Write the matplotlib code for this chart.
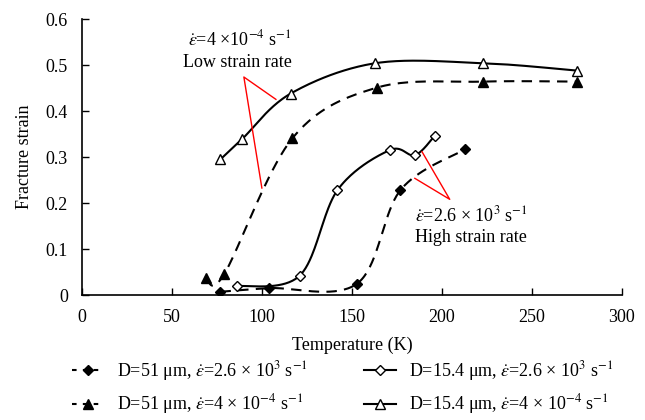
import numpy as np
import matplotlib
matplotlib.use('Agg')
import matplotlib.pyplot as plt

plt.rcParams['font.family'] = ['Liberation Serif', 'DejaVu Serif']
plt.rcParams['mathtext.fontset'] = 'stix'

# D=51 um, high strain rate (filled diamonds)
t_51_high = [77, 104, 153, 177, 213]
e_51_high = [0.007, 0.015, 0.025, 0.228, 0.317]

# D=15.4 um, high strain rate (open diamonds)
t_15_high = [86, 121, 142, 171, 185, 196]
e_15_high = [0.019, 0.042, 0.228, 0.315, 0.304, 0.346]

# D=51 um, low strain rate (filled triangles)
t_51_low = [69, 79, 117, 164, 223, 275]
e_51_low = [0.036, 0.045, 0.341, 0.451, 0.464, 0.464]

# D=15.4 um, low strain rate (open triangles)
t_15_low = [77, 89, 116, 163, 223, 275]
e_15_low = [0.295, 0.339, 0.438, 0.504, 0.504, 0.488]

labels = [r'D=51 μm, $\dot{\varepsilon}$=2.6 × 10$^{3}$ s$^{-1}$',
          r'D=51 μm, $\dot{\varepsilon}$=4 × 10$^{-4}$ s$^{-1}$',
          r'D=15.4 μm, $\dot{\varepsilon}$=2.6 × 10$^{3}$ s$^{-1}$',
          r'D=15.4 μm, $\dot{\varepsilon}$=4 × 10$^{-4}$ s$^{-1}$']


def smooth(x, y, n=40):
    # Excel-like smoothed line (Catmull-Rom bezier in screen-ish units)
    sx, sy = 540 / 300.0, 276 / 0.6
    p = np.column_stack([np.asarray(x, float) * sx, np.asarray(y, float) * sy])
    out = []
    for i in range(len(p) - 1):
        p0 = p[i - 1] if i > 0 else p[i]
        p1, p2 = p[i], p[i + 1]
        p3 = p[i + 2] if i + 2 < len(p) else p[i + 1]
        c1 = p1 + (p2 - p0) / 6
        c2 = p2 - (p3 - p1) / 6
        s = np.linspace(0, 1, n)[:, None]
        seg = (1 - s) ** 3 * p1 + 3 * (1 - s) ** 2 * s * c1 + 3 * (1 - s) * s ** 2 * c2 + s ** 3 * p2
        out.append(seg)
    out = np.vstack(out)
    return out[:, 0] / sx, out[:, 1] / sy


fig = plt.figure(figsize=(6.45, 4.2), dpi=100)
ax = fig.add_axes([0.127, 0.2976, 0.837, 0.657])

series = [
    (t_51_high, e_51_high, 'D', 'black', '--'),
    (t_51_low, e_51_low, '^', 'black', '--'),
    (t_15_high, e_15_high, 'D', 'white', '-'),
    (t_15_low, e_15_low, '^', 'white', '-'),
]
handles = []
for (t, e, m, fc, ls), lab in zip(series, labels):
    xs, ys = smooth(t, e)
    ax.plot(xs, ys, color='black', lw=1.5, ls=ls, dashes=(5, 3.5) if ls == '--' else (None, None))
    ms = 5.5 if m == 'D' else 7
    ax.plot(t, e, ls='none', marker=m, ms=ms, mfc=fc, mec='black', mew=1)
    h, = ax.plot([], [], color='black', lw=1.5, ls=ls, marker=m, ms=ms, mfc=fc, mec='black', mew=1,
                 label=lab)
    if ls == '--':
        h.set_dashes((2.2, 3))
    handles.append(h)

# callout lines
ax.plot([107.8, 90, 100], [0.4254, 0.474, 0.2326], color='red', lw=1)
ax.plot([189, 204.4, 185], [0.3115, 0.208, 0.2537], color='red', lw=1)

ax.text(87.8, 0.5565, r'$\dot{\varepsilon}$=4 ×10$^{-4}$ s$^{-1}$', ha='center', va='center', fontsize=13)
ax.text(86.7, 0.5065, 'Low strain rate', ha='center', va='center', fontsize=13)
ax.text(185, 0.174, r'$\dot{\varepsilon}$=2.6 × 10$^{3}$ s$^{-1}$', ha='left', va='center', fontsize=13)
ax.text(185, 0.126, 'High strain rate', ha='left', va='center', fontsize=13)

ax.set_xlim(0, 300)
ax.set_ylim(0, 0.6)
ax.set_xticks(np.arange(0, 301, 50))
ax.set_yticks(np.arange(0, 0.61, 0.1))
ax.set_yticklabels(['0', '0.1', '0.2', '0.3', '0.4', '0.5', '0.6'])
ax.tick_params(direction='in', length=5, width=1, labelsize=13, pad=10)
for s in ['top', 'right']:
    ax.spines[s].set_visible(False)
for s in ['left', 'bottom']:
    ax.spines[s].set_linewidth(1.2)
ax.set_xlabel('Temperature (K)', fontsize=13, labelpad=8)
ax.set_ylabel('Fracture strain', fontsize=13, labelpad=9)

fig.legend(handles=handles, ncol=2, loc='center', bbox_to_anchor=(0.531, 0.0774),
           frameon=False, fontsize=13, handlelength=1.8, columnspacing=3.1, labelspacing=0.55,
           handletextpad=0.7, borderpad=0.2)

fig.savefig('out.png', dpi=100)
